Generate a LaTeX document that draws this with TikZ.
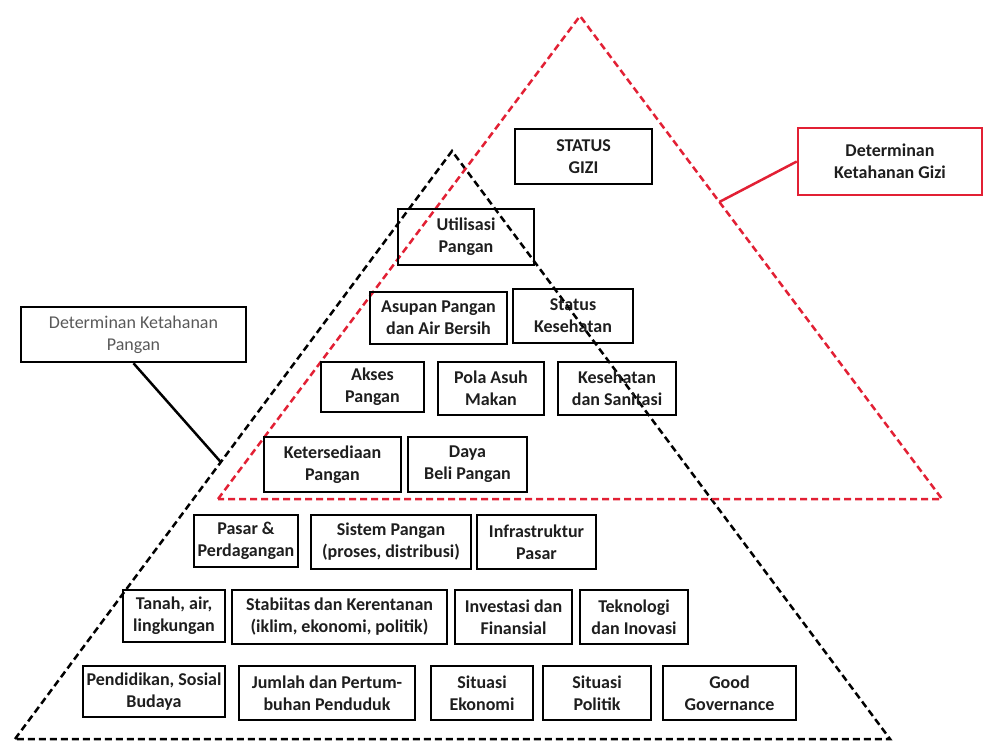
\documentclass[tikz,border=0pt]{standalone}
\usepackage{fontspec}
\setmainfont{Carlito}
\usetikzlibrary{calc}
\definecolor{merah}{RGB}{226,32,52}
\definecolor{teks}{RGB}{30,30,30}
\tikzset{kotak/.style={draw=black,line width=2.5pt,align=center,inner sep=0pt,text=teks,font=\fontsize{18}{22}\selectfont\bfseries},
garis/.style={line width=2.5pt,dash pattern=on 7pt off 4pt,line join=miter}}

\begin{document}
\begin{tikzpicture}[x=1pt,y=-1pt]
\useasboundingbox (0,0) rectangle (985,742);
% segitiga
\coordinate (hA) at (15,739);\coordinate (hB) at (452,151);\coordinate (hC) at (890,739);
\coordinate (mA) at (218,499);\coordinate (mB) at (580,16);\coordinate (mC) at (942,499);
\draw[garis,black] (hA)--(hB)--(hC)--cycle;
\draw[garis,merah] (mA)--(mB)--(mC)--cycle;
% kotak gizi
\node[kotak,minimum width=137pt,minimum height=55pt](gizi) at (583.5,156.5){STATUS\\GIZI};
\node[kotak,minimum width=136pt,minimum height=56pt](utilisasi) at (466,237){Utilisasi\\Pangan};
\node[kotak,minimum width=137pt,minimum height=52pt](asupan) at (438.5,318){Asupan Pangan\\dan Air Bersih};
\node[kotak,minimum width=120pt,minimum height=54pt](statuskes) at (573,316){Status\\Kesehatan};
\node[kotak,minimum width=103pt,minimum height=50pt](akses) at (372.5,387){Akses\\Pangan};
\node[kotak,minimum width=106pt,minimum height=53pt](polaasuh) at (491,388.5){Pola Asuh\\Makan};
\node[kotak,minimum width=118pt,minimum height=53pt](sanitasi) at (617,388.5){Kesehatan\\dan Sanitasi};
\node[kotak,minimum width=137pt,minimum height=55pt](sedia) at (332.5,464.5){Ketersediaan\\Pangan};
\node[kotak,minimum width=119pt,minimum height=55pt](dayabeli) at (467.5,464.5){Daya\\Beli Pangan};
% kotak pangan
\node[kotak,minimum width=104pt,minimum height=52pt](pasar) at (246,541){Pasar \&\\Perdagangan};
\node[kotak,minimum width=160pt,minimum height=54pt](sistem) at (391,542){Sistem Pangan\\(proses, distribusi)};
\node[kotak,minimum width=119pt,minimum height=54pt](infra) at (536.5,542){Infrastruktur\\Pasar};
\node[kotak,minimum width=102pt,minimum height=52pt](tanah) at (174,616){Tanah, air,\\lingkungan};
\node[kotak,minimum width=215pt,minimum height=54pt](stabil) at (339.5,617){Stabiitas dan Kerentanan\\(iklim, ekonomi, politik)};
\node[kotak,minimum width=117pt,minimum height=54pt](invest) at (513.5,617){Investasi dan\\Finansial};
\node[kotak,minimum width=108pt,minimum height=54pt](tekno) at (634,617){Teknologi\\dan Inovasi};
\node[kotak,minimum width=142pt,minimum height=51pt](didik) at (154,691.5){Pendidikan, Sosial\\Budaya};
\node[kotak,minimum width=176pt,minimum height=54pt](jumlah) at (327,693){Jumlah dan Pertum-\\buhan Penduduk};
\node[kotak,minimum width=102pt,minimum height=54pt](sitekon) at (482,693){Situasi\\Ekonomi};
\node[kotak,minimum width=108pt,minimum height=54pt](sitpol) at (597,693){Situasi\\Politik};
\node[kotak,minimum width=133pt,minimum height=54pt](gg) at (729.5,693){Good\\Governance};
% keterangan
\node[kotak,minimum width=225pt,minimum height=55pt,font=\fontsize{18}{22}\selectfont,text=black!65](detpangan) at (133.5,334.5){Determinan Ketahanan\\Pangan};
\node[kotak,draw=merah,minimum width=184pt,minimum height=67pt](detgizi) at (890,161.5){Determinan\\Ketahanan Gizi};
\coordinate (kp) at ($(hA)!0.471!(hB)$);
\coordinate (kg) at ($(mB)!0.385!(mC)$);
\draw[line width=2.5pt](detpangan.south)--(kp);
\draw[line width=2.5pt,merah](detgizi.west)--(kg);
\end{tikzpicture}
\end{document}
